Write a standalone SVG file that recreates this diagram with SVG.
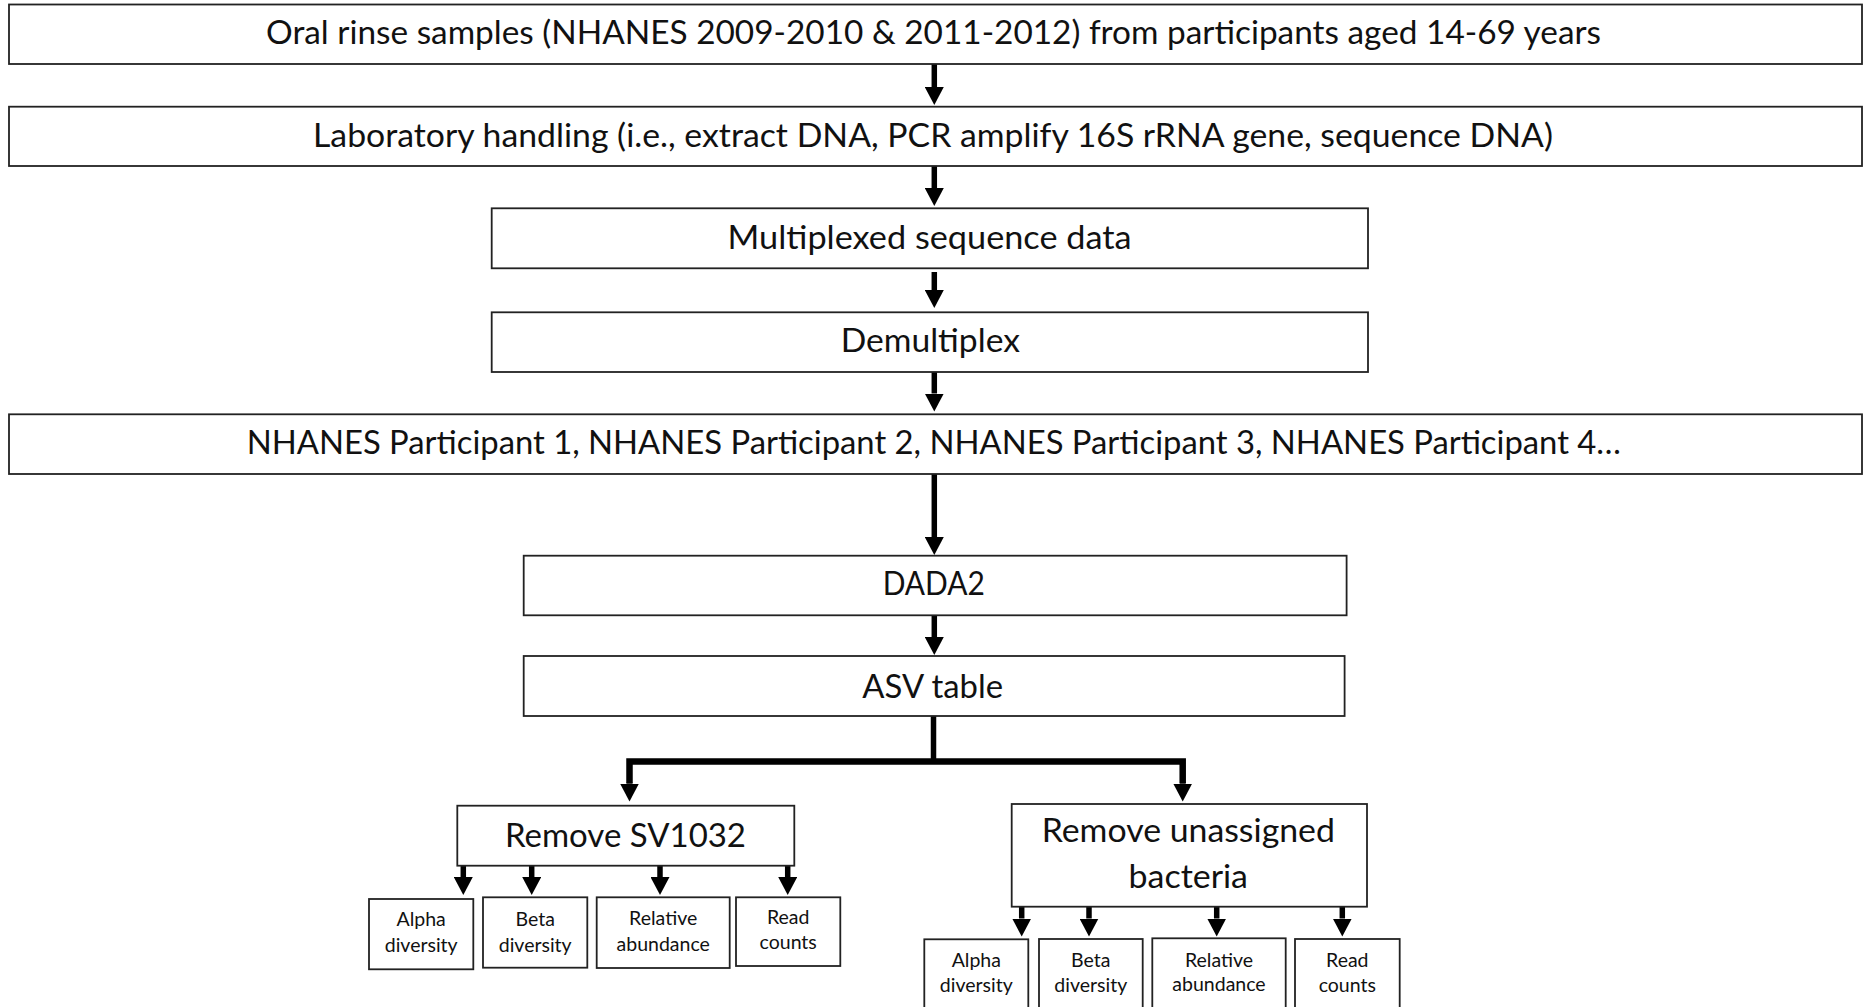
<svg xmlns="http://www.w3.org/2000/svg" width="1866" height="1007" viewBox="0 0 1866 1007">
<defs>
<style>
.box{fill:#fff;stroke:#222;stroke-width:1.8}
.t{font-family:Lato,"Open Sans","Liberation Sans",sans-serif;font-size:33px;fill:#111;text-anchor:middle}
.s{font-family:Lato,"Open Sans","Liberation Sans",sans-serif;font-size:19.5px;fill:#111;text-anchor:middle}
.c{fill:none;stroke:#000;stroke-width:5.5}
.b{fill:none;stroke:#000;stroke-width:6.5;stroke-linejoin:miter}
</style>
<marker id="ah" viewBox="0 0 18 19" refX="0" refY="9.5" markerWidth="18" markerHeight="19" markerUnits="userSpaceOnUse" orient="auto">
<path d="M0,0 L18,9.5 L0,19 z" fill="#000"/>
</marker>
</defs>
<rect width="1866" height="1007" fill="#fff"/>
<g id="connectors">
<line class="c" x1="934.3" y1="64" x2="934.3" y2="87" marker-end="url(#ah)"/>
<line class="c" x1="934.3" y1="166" x2="934.3" y2="188" marker-end="url(#ah)"/>
<line class="c" x1="934.3" y1="272" x2="934.3" y2="290" marker-end="url(#ah)"/>
<line class="c" x1="934.3" y1="372" x2="934.3" y2="393.5" marker-end="url(#ah)"/>
<line class="c" x1="934.3" y1="474" x2="934.3" y2="537" marker-end="url(#ah)"/>
<line class="c" x1="934.3" y1="615" x2="934.3" y2="637" marker-end="url(#ah)"/>
<line class="c" x1="933.5" y1="716" x2="933.5" y2="761"/>
<path class="b" d="M629.5,783.5 L629.5,761.5 L1182.7,761.5 L1182.7,783.5" marker-start="none"/>
<line class="c" x1="629.5" y1="782" x2="629.5" y2="783.5" marker-end="url(#ah)"/>
<line class="c" x1="1182.7" y1="782" x2="1182.7" y2="783.5" marker-end="url(#ah)"/>
<line class="c" x1="463.3" y1="865.7" x2="463.3" y2="877" marker-end="url(#ah)"/>
<line class="c" x1="531.7" y1="865.7" x2="531.7" y2="877" marker-end="url(#ah)"/>
<line class="c" x1="660" y1="865.7" x2="660" y2="877" marker-end="url(#ah)"/>
<line class="c" x1="787.7" y1="865.7" x2="787.7" y2="877" marker-end="url(#ah)"/>
<line class="c" x1="1021.7" y1="906.7" x2="1021.7" y2="918.5" marker-end="url(#ah)"/>
<line class="c" x1="1089" y1="906.7" x2="1089" y2="918.5" marker-end="url(#ah)"/>
<line class="c" x1="1216.7" y1="906.7" x2="1216.7" y2="918.5" marker-end="url(#ah)"/>
<line class="c" x1="1342.3" y1="906.7" x2="1342.3" y2="918.5" marker-end="url(#ah)"/>
</g>
<g id="n1"><rect class="box" x="9" y="4.5" width="1853" height="59.5"/><text class="t" x="933.5" y="44.3" textLength="1335" lengthAdjust="spacingAndGlyphs">Oral rinse samples (NHANES 2009-2010 &amp; 2011-2012) from participants aged 14-69 years</text></g>
<g id="n2"><rect class="box" x="9" y="106.7" width="1853" height="59.3"/><text class="t" x="933" y="146.7" textLength="1240" lengthAdjust="spacingAndGlyphs">Laboratory handling (i.e., extract DNA, PCR amplify 16S rRNA gene, sequence DNA)</text></g>
<g id="n3"><rect class="box" x="491.7" y="208.3" width="876.3" height="60"/><text class="t" x="929.6" y="249" textLength="404" lengthAdjust="spacingAndGlyphs">Multiplexed sequence data</text></g>
<g id="n4"><rect class="box" x="491.7" y="312.3" width="876.3" height="59.7"/><text class="t" x="930.3" y="351.7" textLength="179.3" lengthAdjust="spacingAndGlyphs">Demultiplex</text></g>
<g id="n5"><rect class="box" x="9" y="414.3" width="1853" height="59.7"/><text class="t" x="933.8" y="454" textLength="1374.3" lengthAdjust="spacingAndGlyphs">NHANES Participant 1, NHANES Participant 2, NHANES Participant 3, NHANES Participant 4…</text></g>
<g id="n6"><rect class="box" x="523.7" y="555.7" width="822.9" height="59.6"/><text class="t" x="933.8" y="595" textLength="102.3" lengthAdjust="spacingAndGlyphs">DADA2</text></g>
<g id="n7"><rect class="box" x="523.7" y="656" width="820.9" height="60"/><text class="t" x="932.7" y="697.7" textLength="140.7" lengthAdjust="spacingAndGlyphs">ASV table</text></g>
<g id="n8"><rect class="box" x="457.3" y="805.7" width="337" height="60"/><text class="t" x="625.5" y="847.3" textLength="241" lengthAdjust="spacingAndGlyphs">Remove SV1032</text></g>
<g id="n9"><rect class="box" x="1011.7" y="804" width="355.3" height="102.7"/><text class="t" x="1188.3" y="841.7" textLength="293.3" lengthAdjust="spacingAndGlyphs">Remove unassigned</text><text class="t" x="1188.3" y="888.3" textLength="119.4" lengthAdjust="spacingAndGlyphs">bacteria</text></g>
<g id="n10"><rect class="box" x="369" y="899" width="104.3" height="70.3"/><text class="s" x="421.2" y="926">Alpha</text><text class="s" x="421.2" y="951.7">diversity</text></g>
<g id="n11"><rect class="box" x="483" y="897.3" width="104.3" height="70.4"/><text class="s" x="535.2" y="926">Beta</text><text class="s" x="535.2" y="951.7">diversity</text></g>
<g id="n12"><rect class="box" x="596.7" y="897.3" width="133" height="70.7"/><text class="s" x="663.2" y="925">Relative</text><text class="s" x="663.2" y="951">abundance</text></g>
<g id="n13"><rect class="box" x="736" y="897.3" width="104.3" height="68.7"/><text class="s" x="788.2" y="924.3">Read</text><text class="s" x="788.2" y="949.3">counts</text></g>
<g id="n14"><rect class="box" x="924.3" y="939.3" width="104" height="80"/><text class="s" x="976.3" y="967.3">Alpha</text><text class="s" x="976.3" y="991.7">diversity</text></g>
<g id="n15"><rect class="box" x="1039" y="939" width="103.7" height="80"/><text class="s" x="1090.8" y="967.3">Beta</text><text class="s" x="1090.8" y="991.7">diversity</text></g>
<g id="n16"><rect class="box" x="1152.3" y="938.3" width="133.4" height="80"/><text class="s" x="1219" y="966.7">Relative</text><text class="s" x="1219" y="991">abundance</text></g>
<g id="n17"><rect class="box" x="1295" y="939" width="104.7" height="80"/><text class="s" x="1347.3" y="967">Read</text><text class="s" x="1347.3" y="991.7">counts</text></g>
</svg>
